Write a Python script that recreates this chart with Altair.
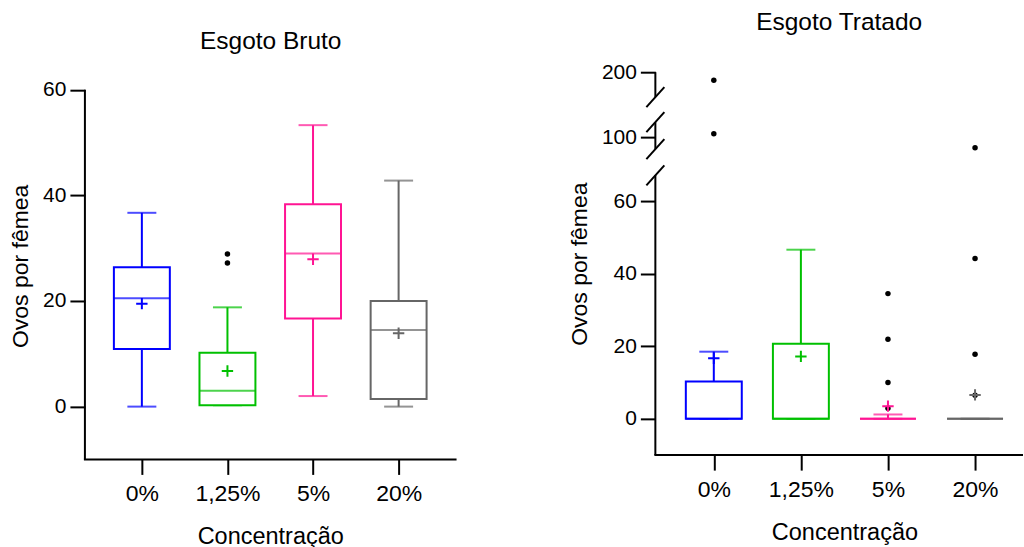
import altair as alt
import pandas as pd

FONT = "Liberation Sans"

cats = ["0%", "1,25%", "5%", "20%"]
colors = ["#0000FF", "#00C000", "#FF1493", "#666666"]

# ---- Esgoto Bruto (left panel) ----
b_low = [0.0, 0.26, 2.0, 0.0]
b_q1 = [10.9, 0.26, 16.7, 1.45]
b_med = [20.5, 3.0, 29.0, 14.5]
b_q3 = [26.4, 10.2, 38.3, 20.0]
b_high = [36.7, 18.8, 53.3, 42.8]
b_mean = [19.5, 6.75, 27.9, 13.9]
b_out_cat = ["1,25%", "1,25%"]
b_out_val = [28.9, 27.2]
left_ticks = [0, 20, 40, 60]
left_range = [-10.0, 60.0]

# ---- Esgoto Tratado (right panel, broken axis) ----
t_low = [0.0, 0.0, 0.0, 0.0]
t_q1 = [0.0, 0.0, 0.0, 0.0]
t_med = [0.0, 0.0, 0.0, 0.0]
t_q3 = [10.3, 20.7, 0.0, 0.0]
t_high = [18.5, 46.6, 1.2, 0.0]
t_mean = [16.7, 17.2, 3.5, 6.6]
t_out_cat = ["0%", "0%", "5%", "5%", "5%", "5%", "20%", "20%", "20%", "20%"]
t_out_val = [192.0, 103.4, 34.5, 21.9, 10.0, 2.9, 89.4, 44.2, 17.8, 6.5]

# broken axis segments (value ranges)
seg_lo = [-10.0, 88.0, 175.0]
seg_hi = [67.1, 115.0, 200.0]
right_ticks = [0, 20, 40, 60, 100, 200]

# ---- geometry of the broken axis (pixels from the bottom of the plot) ----
K = 3.63          # px per unit in the lower segment
seg_px0 = [0.0, 306.0, 358.0]
seg_pxk = [K, 1.0, 1.0]


def u_of(v):
    for lo, hi, p0, k in zip(seg_lo, seg_hi, seg_px0, seg_pxk):
        if v <= hi + 1e-9:
            return (p0 + (v - lo) * k) / K - 10
    lo, p0, k = seg_lo[-1], seg_px0[-1], seg_pxk[-1]
    return (p0 + (v - lo) * k) / K - 10


def expr_of(f):
    d = f"datum['{f}']"
    e1 = f"({seg_px0[1]} + ({d} - {seg_lo[1]}) * {seg_pxk[1]}) / {K} - 10"
    e2 = f"({seg_px0[2]} + ({d} - {seg_lo[2]}) * {seg_pxk[2]}) / {K} - 10"
    return f"{d} <= {seg_hi[0]} ? {d} : ({d} <= {seg_hi[1]} ? {e1} : {e2})"


AX = dict(
    labelFont=FONT, titleFont=FONT, labelColor="black", titleColor="black",
    domain=False, tickColor="black", tickWidth=2,
    tickSize=15, grid=False, titleFontWeight="normal",
)


def panel(low, q1, med, q3, high, mean, out_cat, out_val, title, ydomain,
          yaxis, xrange_, width, height, broken, title_offset):
    box = pd.DataFrame({"cat": cats, "low": low, "q1": q1, "med": med,
                        "q3": q3, "high": high, "mean": mean})
    outs = pd.DataFrame({"cat": out_cat, "val": out_val})
    fields = ["low", "q1", "med", "q3", "high", "mean"]

    xenc = alt.X("cat:N", sort=cats,
                 scale=alt.Scale(type="point", domain=cats, range=xrange_,
                                 padding=0),
                 axis=alt.Axis(title="Concentração", labelAngle=0,
                               labelFontSize=23, titleFontSize=23.5,
                               labelPadding=8, titlePadding=19, **AX))
    cenc = alt.Color("cat:N", scale=alt.Scale(domain=cats, range=colors),
                     legend=None)
    ysc = alt.Scale(domain=ydomain, nice=False, zero=False)

    def Y(f):
        return alt.Y(f + ":Q", scale=ysc, axis=yaxis)

    base = alt.Chart(box)
    ob = alt.Chart(outs)
    if broken:
        for f in fields:
            base = base.transform_calculate(**{"u_" + f: expr_of(f)})
        ob = ob.transform_calculate(u_val=expr_of("val"))
        pre = "u_"
    else:
        pre = ""

    whisk = base.mark_rule(strokeWidth=2).encode(
        x=xenc, y=Y(pre + "low"), y2=alt.Y2(pre + "high"), color=cenc)
    cap_hi = base.mark_tick(size=29, thickness=2).encode(
        x=xenc, y=Y(pre + "high"), color=cenc)
    cap_lo = base.mark_tick(size=29, thickness=2).encode(
        x=xenc, y=Y(pre + "low"), color=cenc)
    boxm = base.mark_bar(size=56, fill="white", strokeWidth=2).encode(
        x=xenc, y=Y(pre + "q1"), y2=alt.Y2(pre + "q3"), stroke=cenc)
    medm = base.mark_tick(size=56, thickness=2).encode(
        x=xenc, y=Y(pre + "med"), color=cenc)
    outm = ob.mark_circle(size=30, color="black", opacity=1).encode(
        x=xenc, y=Y(pre + "val"))
    meanm = base.mark_point(shape="M-1,0H1M0,-1V1", size=130, filled=False,
                            strokeWidth=2, opacity=1).encode(
        x=xenc, y=Y(pre + "mean"), color=cenc)

    # axis lines (drawn as rules so that the y axis can be broken)
    if broken:
        segs = pd.DataFrame({"lo": seg_lo, "hi": seg_hi})
        segm = alt.Chart(segs).transform_calculate(
            ulo=expr_of("lo"), uhi=expr_of("hi")
        ).mark_rule(strokeWidth=2, color="black").encode(
            x=alt.value(0), y=Y("ulo"), y2="uhi:Q")
        brk = pd.DataFrame({"b": [seg_hi[0], seg_lo[1], seg_hi[1], seg_lo[2]]})
        brkm = alt.Chart(brk).transform_calculate(
            ub=expr_of("b")
        ).transform_calculate(
            b1=f"datum.ub - {10 / K}", b2=f"datum.ub + {10 / K}"
        ).mark_rule(strokeWidth=2, color="black").encode(
            x=alt.value(-9), x2=alt.value(9), y=Y("b1"), y2="b2:Q")
        ylines = [segm, brkm]
    else:
        segs = pd.DataFrame({"lo": [left_range[0]], "hi": [left_range[1]]})
        segm = alt.Chart(segs).mark_rule(strokeWidth=2, color="black").encode(
            x=alt.value(0), y=Y("lo"), y2="hi:Q")
        ylines = [segm]
    xline = alt.Chart(pd.DataFrame({"a": [0]})).mark_rule(
        strokeWidth=2, color="black").encode(
        x=alt.value(-1), x2=alt.value(width), y=alt.value(height))

    layers = [whisk, cap_hi, cap_lo, boxm, medm, outm, meanm] + ylines + [xline]

    return alt.layer(*layers).properties(
        width=width, height=height,
        title=alt.TitleParams(title, font=FONT, fontSize=24.5,
                              fontWeight="normal", color="black",
                              offset=title_offset),
    )


left_axis = alt.Axis(values=left_ticks, title="Ovos por fêmea",
                     labelFontSize=21, titleFontSize=23, labelPadding=4,
                     titlePadding=10, **AX)

right_axis = alt.Axis(values=[u_of(v) for v in right_ticks],
                      labelExpr="datum.value > 90 ? '200' : (datum.value > 70 ? '100' : format(datum.value, '.0f'))",
                      title="Ovos por fêmea", labelFontSize=21,
                      titleFontSize=23, labelPadding=4, titlePadding=10,
                      **AX)

# left plot: 5.29 px/unit; extended 17.6 px above 60 so both panels align
LK = 5.29
left_top = left_range[1] + 17.6 / LK
left = panel(b_low, b_q1, b_med, b_q3, b_high, b_mean, b_out_cat, b_out_val,
             "Esgoto Bruto", [left_range[0], left_top], left_axis, [57, 314],
             372, 387.6, False, 18)
right = panel(t_low, t_q1, t_med, t_q3, t_high, t_mean, t_out_cat, t_out_val,
              "Esgoto Tratado", [-10.0, u_of(200.0)], right_axis, [58.5, 320],
              368, 383.3, True, 26)

chart = alt.hconcat(left, right, spacing=110).properties(
    padding={"left": 9, "top": 9, "right": 0, "bottom": 0},
    background="white",
).configure_view(stroke=None)

chart.save("out.html", embed_options={"renderer": "svg", "actions": False})
